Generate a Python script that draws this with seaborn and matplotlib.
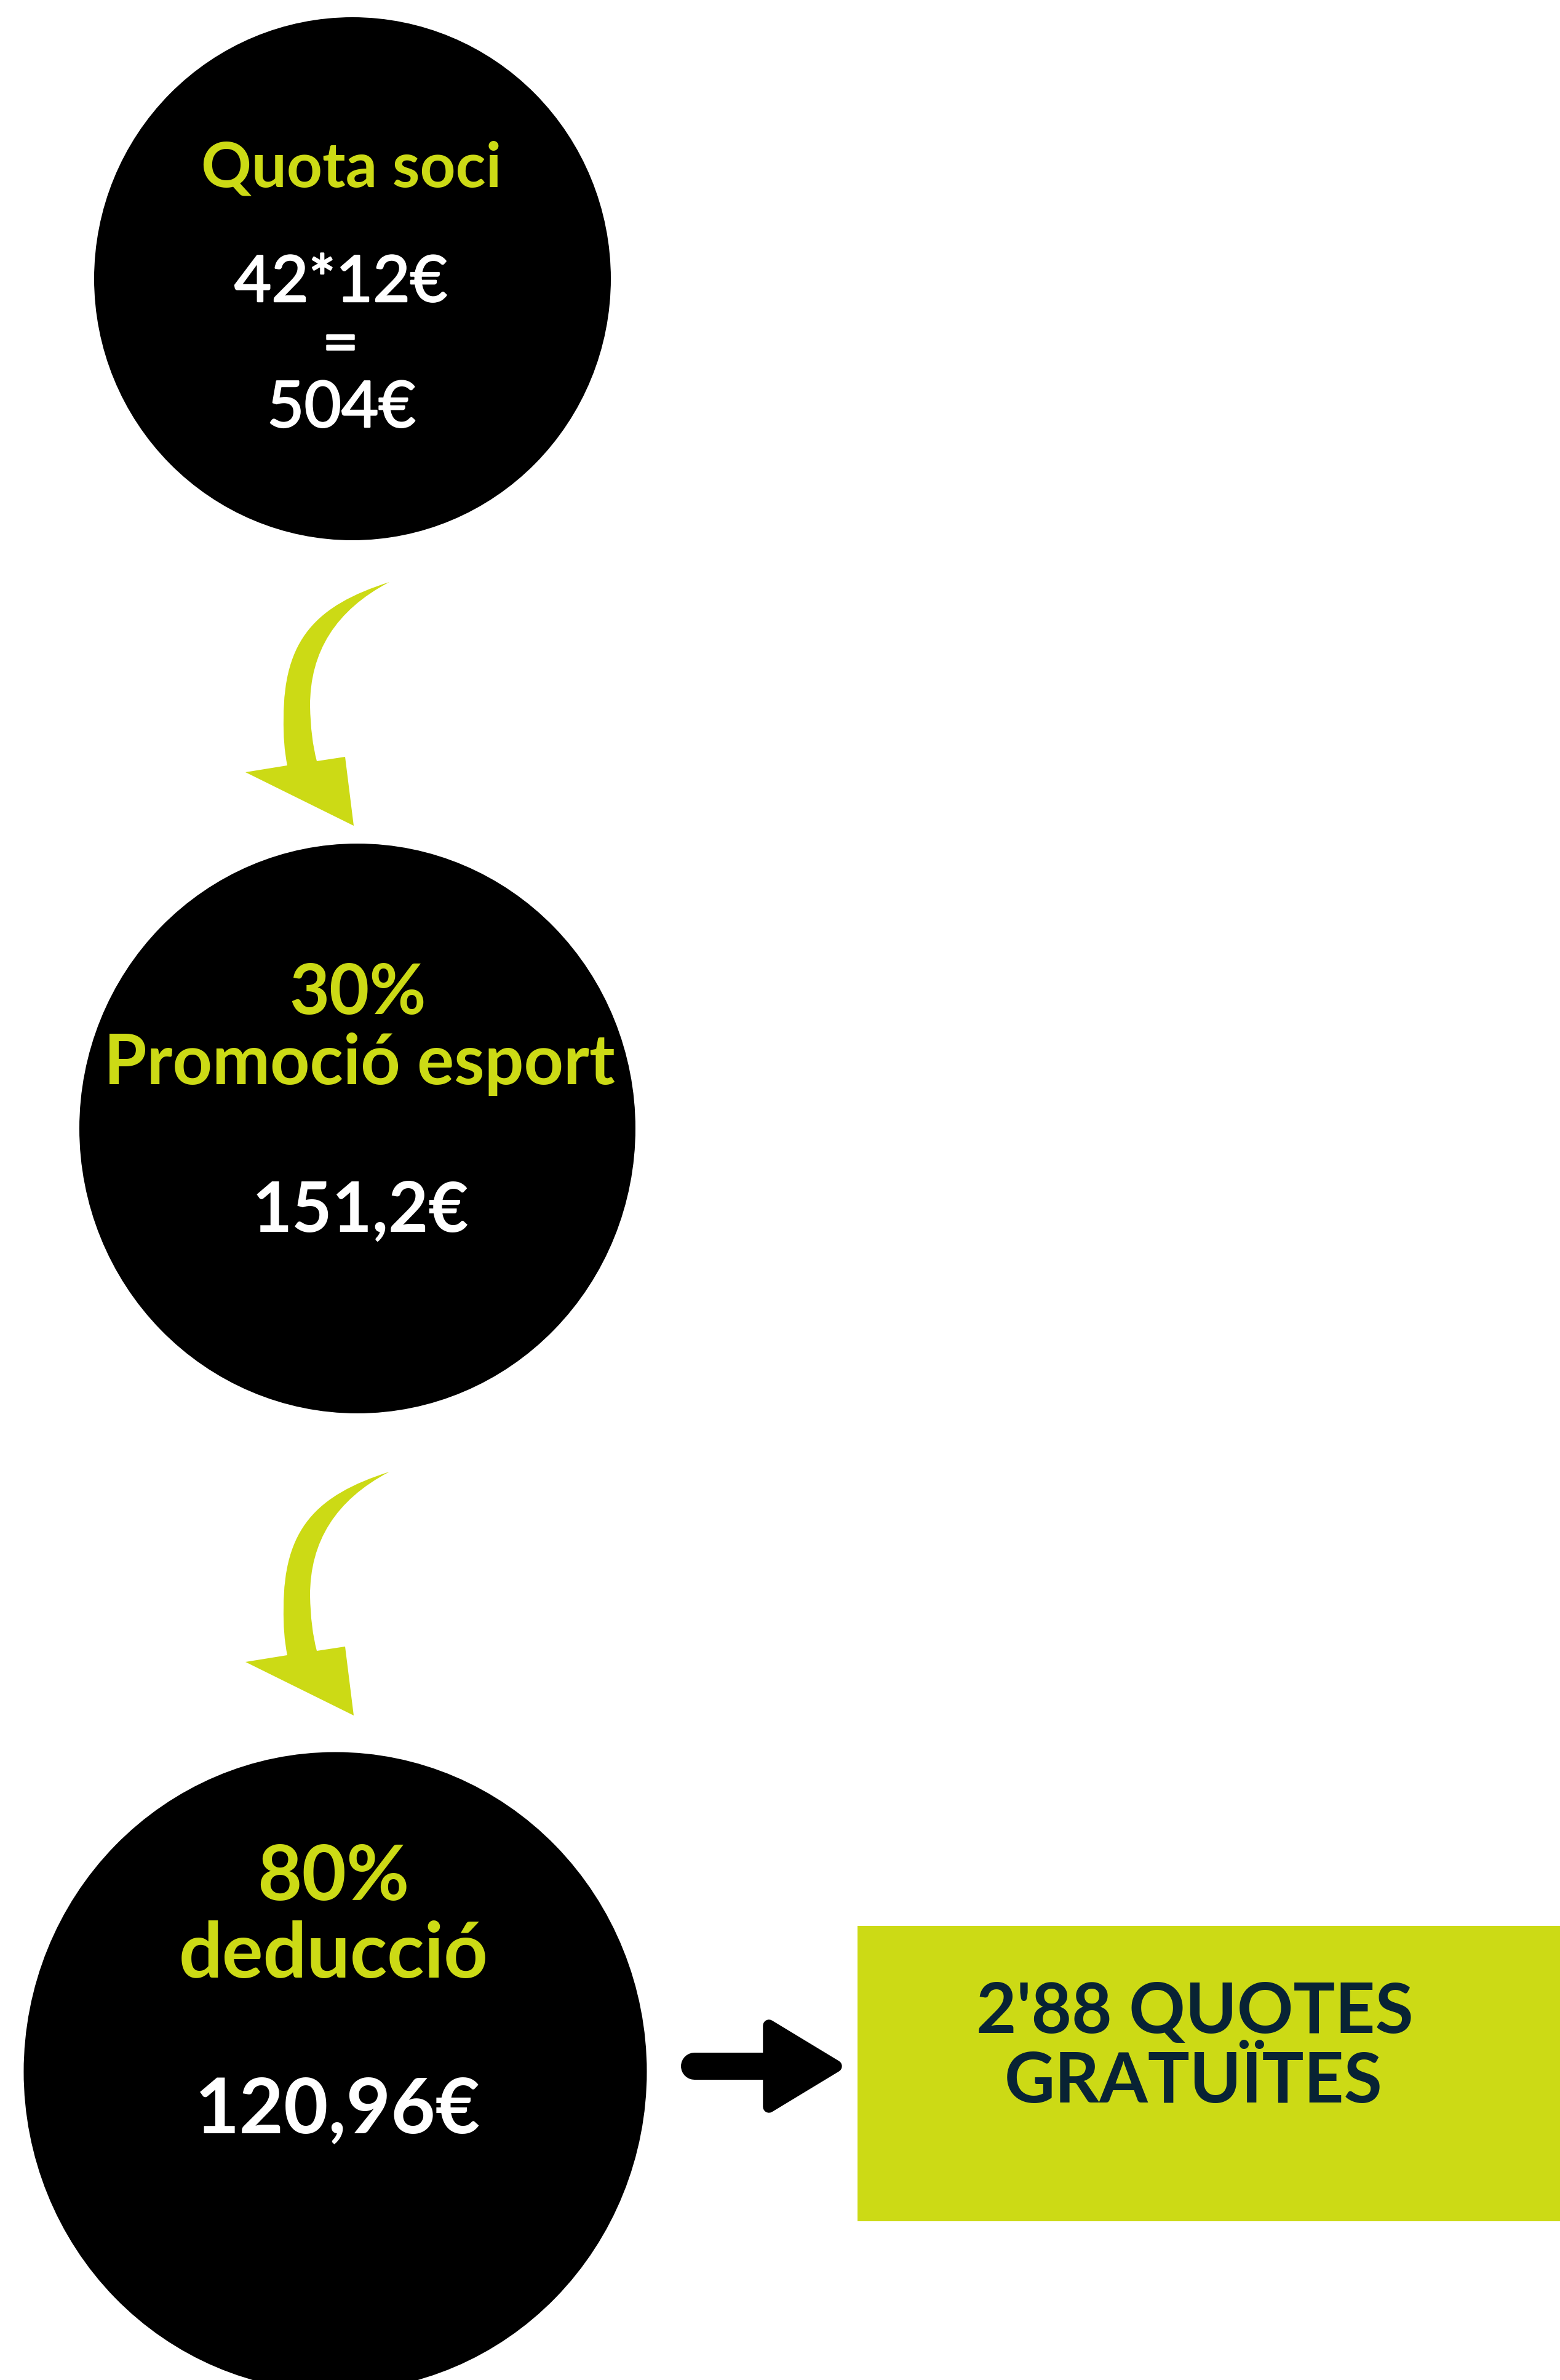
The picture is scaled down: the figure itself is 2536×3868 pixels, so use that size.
import matplotlib
matplotlib.use("Agg")
import matplotlib.pyplot as plt
import matplotlib.patheffects as pe
from matplotlib.patches import Ellipse, Rectangle, PathPatch, Polygon
from matplotlib.path import Path
import seaborn as sns

sns.set_theme(style="white")
plt.rcParams['font.family'] = ['Lato', 'DejaVu Sans']

LIME = "#CCDA15"
NAVY = "#082334"

# ----- textos de cada cercle -----
cercle1_titol = ["Quota soci"]
cercle1_valor = ["42*12€", "=", "504€"]
cercle2_titol = ["30%", "Promoció esport"]
cercle2_valor = ["151,2€"]
cercle3_titol = ["80%", "deducció"]
cercle3_valor = ["120,96€"]
caixa_text = ["2'88 QUOTES", "GRATUÏTES"]

W, H = 2536, 3868
fig = plt.figure(figsize=(W / 100, H / 100), dpi=100)
ax = fig.add_axes([0, 0, 1, 1])
ax.set_xlim(0, W)
ax.set_ylim(H, 0)
ax.axis("off")

# ----- cercles negres -----
for (cx, cy, w, h) in [(573, 453, 840, 850), (581, 1834, 904, 926), (545, 3367, 1013, 1039)]:
    ax.add_patch(Ellipse((cx, cy), w, h, color="black", lw=0))


# ----- fletxes corbes grogues -----
def fletxa_corba(dy):
    verts = [
        (633, 946), (513, 984), (461, 1040), (461, 1167),
        (460, 1210), (467, 1244),
        (399, 1255), (575, 1342), (561, 1230), (515, 1237),
        (505, 1200), (504, 1147),
        (504, 1060), (545, 992), (633, 946),
    ]
    codes = [Path.MOVETO, Path.CURVE4, Path.CURVE4, Path.CURVE4,
             Path.CURVE3, Path.CURVE3,
             Path.LINETO, Path.LINETO, Path.LINETO, Path.LINETO,
             Path.CURVE3, Path.CURVE3,
             Path.CURVE4, Path.CURVE4, Path.CURVE4]
    verts = [(x, y + dy) for x, y in verts]
    ax.add_patch(PathPatch(Path(verts, codes), facecolor=LIME, edgecolor="none"))


fletxa_corba(0)
fletxa_corba(1446)

# ----- fletxa negra -----
ax.plot([1129, 1250], [3358, 3358], color="black", lw=44 * 0.72, solid_capstyle="round")
ax.add_patch(Polygon([(1250, 3292), (1359, 3358), (1250, 3424)], closed=True,
                     facecolor="black", edgecolor="black", lw=14, joinstyle="round"))

# ----- caixa verda -----
ax.add_patch(Rectangle((1394, 3130), W - 1394, 480, color=LIME, lw=0))

# ----- textos -----
# una mica de gruix extra al blanc del primer cercle (pes "medium")
gruix = [pe.withStroke(linewidth=1.8, foreground="white")]

ax.text(571, 303, cercle1_titol[0], color=LIME, fontsize=73, fontweight="bold", ha="center", va="baseline")
ax.text(554, 490, cercle1_valor[0], color="white", fontsize=75, ha="center", va="baseline", path_effects=gruix)
ax.text(553, 591, cercle1_valor[1], color="white", fontsize=75, ha="center", va="baseline", path_effects=gruix)
ax.text(555, 694, cercle1_valor[2], color="white", fontsize=75, ha="center", va="baseline", path_effects=gruix)

ax.text(582, 1648, cercle2_titol[0], color=LIME, fontsize=81, fontweight="bold", ha="center", va="baseline")
ax.text(584, 1762, cercle2_titol[1], color=LIME, fontsize=81, fontweight="bold", ha="center", va="baseline")
ax.text(586, 2002, cercle2_valor[0], color="white", fontsize=81, fontweight="bold", ha="center", va="baseline")

ax.text(542, 3088, cercle3_titol[0], color=LIME, fontsize=90, fontweight="bold", ha="center", va="baseline")
ax.text(542, 3214, cercle3_titol[1], color=LIME, fontsize=90, fontweight="bold", ha="center", va="baseline")
ax.text(549, 3466, cercle3_valor[0], color="white", fontsize=90, fontweight="bold", ha="center", va="baseline")

ax.text(1942, 3304, caixa_text[0], color=NAVY, fontsize=81.5, fontweight="bold", ha="center", va="baseline")
ax.text(1940, 3417, caixa_text[1], color=NAVY, fontsize=81.5, fontweight="bold", ha="center", va="baseline")

fig.savefig("out.png", dpi=100, facecolor="white")
